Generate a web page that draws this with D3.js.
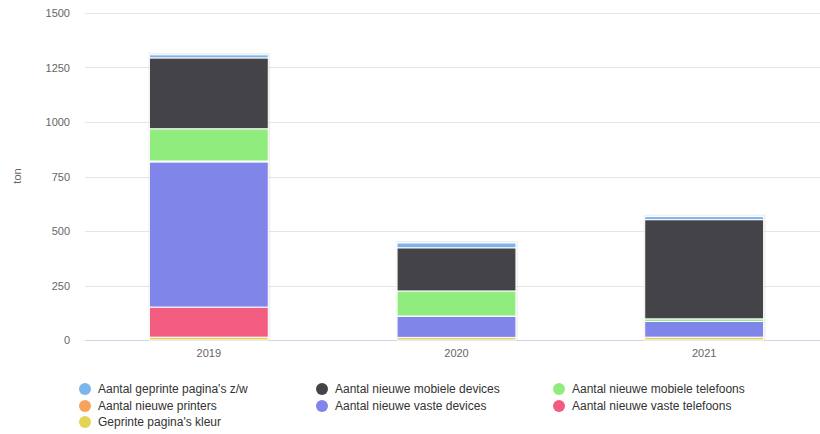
<!DOCTYPE html>
<html>
<head>
<meta charset="utf-8">
<script src="https://cdn.jsdelivr.net/npm/d3@7/dist/d3.min.js"></script>
<style>
  html, body { margin: 0; padding: 0; background: #fff; }
  svg { display: block; font-family: "Liberation Sans", Arial, sans-serif; }
</style>
</head>
<body>
<svg id="chart" width="820" height="434"></svg>
<script>
const categories = ["2019", "2020", "2021"];
const seriesNames = [
  "Aantal geprinte pagina's z/w",
  "Aantal nieuwe mobiele devices",
  "Aantal nieuwe mobiele telefoons",
  "Aantal nieuwe printers",
  "Aantal nieuwe vaste devices",
  "Aantal nieuwe vaste telefoons",
  "Geprinte pagina's kleur"
];
const seriesColors = ["#7cb5ec", "#434348", "#90ed7d", "#f7a35c", "#8085e9", "#f15c80", "#e4d354"];
const printZW       = [14, 22, 14];
const mobileDevices = [325, 198, 455];
const mobilePhones  = [148, 115, 12];
const printers      = [4, 1, 0];
const fixedDevices  = [666, 97, 72];
const fixedPhones   = [138, 0, 0];
const printColor    = [13, 12, 13];
const yTicks = [0, 250, 500, 750, 1000, 1250, 1500];
const yTitle = "ton";

const seriesValues = [printZW, mobileDevices, mobilePhones, printers, fixedDevices, fixedPhones, printColor];

(function () {
const svg = d3.select("#chart");
const plotLeft = 85, plotRight = 828, plotTop = 13, plotBottom = 340;

const x = d3.scaleBand().domain(categories).range([plotLeft, plotRight]).paddingInner(0.52).paddingOuter(0.26);
const y = d3.scaleLinear().domain([0, 1500]).range([plotBottom, plotTop]);

// grid
const grid = svg.append("g");
yTicks.forEach(t => {
  grid.append("line")
    .attr("x1", plotLeft).attr("x2", 820)
    .attr("y1", Math.round(y(t)) + 0.5).attr("y2", Math.round(y(t)) + 0.5)
    .attr("stroke", t === 0 ? "#ccd6eb" : "#e6e6e6").attr("stroke-width", 1);
});

// y axis labels
const yAxis = d3.axisLeft(y).tickValues(yTicks).tickSize(0).tickPadding(0).tickFormat(d3.format("d"));
const yg = svg.append("g").attr("transform", `translate(70,0)`).call(yAxis);
yg.attr("font-family", "Liberation Sans, Arial, sans-serif").attr("font-size", 11);
yg.select(".domain").remove();
yg.selectAll("text").attr("fill", "#666666");

// y title
svg.append("text")
  .attr("transform", "translate(17,176) rotate(-90)")
  .attr("text-anchor", "middle")
  .attr("dy", "0.35em")
  .attr("fill", "#666666")
  .style("font-size", "11px")
  .text(yTitle);

// x axis labels
const xAxis = d3.axisBottom(x).tickSize(0).tickPadding(0);
const xg = svg.append("g").attr("transform", `translate(0,${plotBottom + 9})`).call(xAxis);
xg.attr("font-family", "Liberation Sans, Arial, sans-serif").attr("font-size", 11);
xg.select(".domain").remove();
xg.selectAll("text").attr("fill", "#666666");

// stacked data: first series on top => stack in reverse order
const rows = categories.map((c, i) => {
  const r = { cat: c };
  seriesNames.forEach((n, k) => r[n] = seriesValues[k][i]);
  return r;
});
const stackKeys = seriesNames.slice().reverse();
const stacked = d3.stack().keys(stackKeys)(rows);
const topLayer = stacked[stacked.length - 1];

// faint halo behind each stack
svg.append("g").selectAll("rect")
  .data(topLayer)
  .join("rect")
  .attr("x", d => x(d.data.cat) - 1)
  .attr("width", x.bandwidth() + 3)
  .attr("y", d => y(d[1]) - 2)
  .attr("height", d => y(0) - y(d[1]) + 2)
  .attr("fill", "#000")
  .attr("opacity", 0.06);

const bars = svg.append("g");
stacked.forEach(layer => {
  const color = seriesColors[seriesNames.indexOf(layer.key)];
  bars.append("g").selectAll("rect")
    .data(layer)
    .join("rect")
    .attr("x", d => x(d.data.cat))
    .attr("width", x.bandwidth())
    .attr("y", d => y(d[1]))
    .attr("height", d => Math.max(0, y(d[0]) - y(d[1])))
    .attr("fill", color)
    .attr("stroke", "#ffffff")
    .attr("stroke-width", 1)
    .attr("display", d => (d[1] - d[0]) > 0 ? null : "none");
});

// legend
const legend = svg.append("g");
const colX = [85, 322, 559];
const rowY = [389, 406, 422];
seriesNames.forEach((n, k) => {
  const cx = colX[k % 3], cy = rowY[Math.floor(k / 3)];
  legend.append("circle").attr("cx", cx).attr("cy", cy).attr("r", 6).attr("fill", seriesColors[k]);
  legend.append("text").attr("x", cx + 13).attr("y", cy).attr("dy", "0.35em")
    .attr("fill", "#333333").style("font-size", "12px").text(n);
});
})();
</script>
</body>
</html>
